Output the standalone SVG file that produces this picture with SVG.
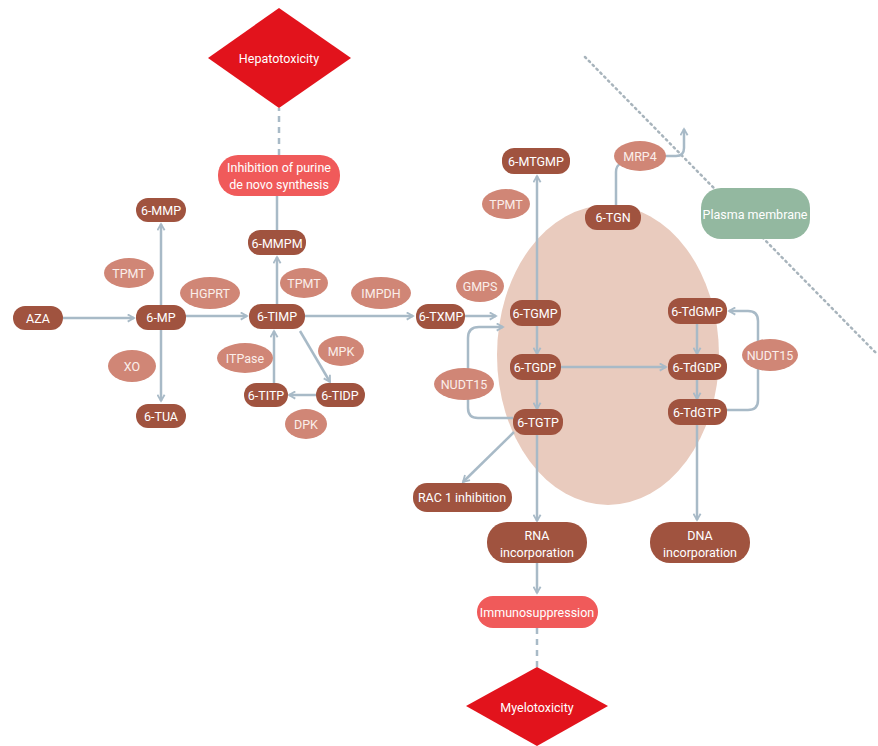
<svg xmlns="http://www.w3.org/2000/svg" width="878" height="746" viewBox="0 0 878 746">
<defs>
<marker id="ah" viewBox="0 0 10 10" refX="8" refY="5" markerWidth="9" markerHeight="9" markerUnits="userSpaceOnUse" orient="auto">
<path d="M1,1 L8,5 L1,9" fill="none" stroke="#a8bac7" stroke-width="2"/>
</marker>
<style>
.n{fill:#a0533f}
.e{fill:#d08676}
.t{fill:#ffffff;font-family:Roboto,"Liberation Sans",sans-serif;font-size:12.5px;text-anchor:middle;dominant-baseline:central}
.te{fill:#fbeeea;font-family:Roboto,"Liberation Sans",sans-serif;font-size:12.5px;text-anchor:middle;dominant-baseline:central}
.c{fill:none;stroke:#a8bac7;stroke-width:2.5}
.a{marker-end:url(#ah)}
.d{stroke-dasharray:6,5}
</style>
</defs>
<rect width="878" height="746" fill="#ffffff"/>
<ellipse cx="608" cy="355" rx="111" ry="150" fill="#e9cbbe"/>
<line x1="585" y1="57" x2="878" y2="355" stroke="#a8b4bc" stroke-width="2.5" stroke-dasharray="1.5,4" stroke-linecap="round"/>
<g id="connectors">
<line class="c a" x1="63" y1="318" x2="134" y2="318"/>
<line class="c a" x1="161" y1="305" x2="161" y2="224"/>
<line class="c a" x1="161" y1="330" x2="161" y2="401"/>
<line class="c a" x1="186" y1="316" x2="247" y2="316"/>
<line class="c a" x1="277" y1="304" x2="277" y2="257"/>
<line class="c" x1="277" y1="230" x2="277" y2="196"/>
<line class="c d" x1="279" y1="155" x2="279" y2="108"/>
<line class="c a" x1="305" y1="316" x2="413" y2="316"/>
<line class="c a" x1="300" y1="331" x2="330" y2="382"/>
<line class="c a" x1="316" y1="395" x2="289" y2="395"/>
<line class="c a" x1="274" y1="383" x2="274" y2="331"/>
<line class="c a" x1="465" y1="316" x2="496" y2="316"/>
<line class="c a" x1="537" y1="300" x2="537" y2="176"/>
<line class="c a" x1="537" y1="326" x2="537" y2="354"/>
<line class="c a" x1="537" y1="380" x2="537" y2="409"/>
<path class="c a" d="M513,418 L478,418 Q468,418 468,408 L468,338 Q468,327 479,327 L503,327"/>
<line class="c a" x1="560" y1="367" x2="666" y2="367"/>
<line class="c a" x1="697" y1="324" x2="697" y2="354"/>
<line class="c a" x1="697" y1="380" x2="697" y2="399"/>
<path class="c a" d="M727,410 L748,410 Q758,410 758,400 L758,321 Q758,311 748,311 L729,311"/>
<line class="c a" x1="697" y1="425" x2="697" y2="520"/>
<line class="c a" x1="514" y1="432" x2="463" y2="482"/>
<line class="c a" x1="537" y1="435" x2="537" y2="521"/>
<line class="c a" x1="537" y1="563" x2="537" y2="593"/>
<line class="c d" x1="537" y1="628" x2="537" y2="667"/>
<path class="c" d="M616,205 L616,172 Q616,166 620,164"/>
<path class="c a" d="M665,156 L676,156 Q684,156 684,148 L684,129"/>
</g>
<g id="hepatotoxicity"><polygon points="279,8 351,58 279,108 208,58" fill="#e2131c"/><text class="t" x="279" y="58">Hepatotoxicity</text></g>
<g id="inhibition"><rect x="218" y="155" width="122" height="41" rx="20" fill="#f05a5a"/><text class="t" x="279" y="167">Inhibition of purine</text><text class="t" x="279" y="184">de novo synthesis</text></g>
<g id="myelotoxicity"><polygon points="537,667 608,706 537,746 466,706" fill="#e2131c"/><text class="t" x="537" y="707">Myelotoxicity</text></g>
<g id="immunosuppression"><rect x="477" y="596" width="121" height="32" rx="16" fill="#f05a5a"/><text class="t" x="537" y="612">Immunosuppression</text></g>
<g id="plasma"><rect x="701" y="188" width="109" height="51" rx="20" fill="#93b8a0"/><text class="t" x="755" y="214">Plasma membrane</text></g>
<g id="aza"><rect class="n" x="13" y="306" width="50" height="24" rx="12"/><text class="t" x="38" y="318">AZA</text></g>
<g id="mp"><rect class="n" x="136" y="305" width="50" height="25" rx="12"/><text class="t" x="161" y="317">6-MP</text></g>
<g id="mmp"><rect class="n" x="136" y="198" width="50" height="24" rx="12"/><text class="t" x="161" y="210">6-MMP</text></g>
<g id="tua"><rect class="n" x="136" y="404" width="50" height="24" rx="12"/><text class="t" x="161" y="416">6-TUA</text></g>
<g id="timp"><rect class="n" x="249" y="304" width="56" height="25" rx="12"/><text class="t" x="277" y="316">6-TIMP</text></g>
<g id="mmpm"><rect class="n" x="248" y="230" width="58" height="25" rx="12"/><text class="t" x="277" y="243">6-MMPM</text></g>
<g id="titp"><rect class="n" x="244" y="383" width="44" height="24" rx="12"/><text class="t" x="266" y="395">6-TITP</text></g>
<g id="tidp"><rect class="n" x="316" y="383" width="49" height="24" rx="12"/><text class="t" x="340" y="395">6-TIDP</text></g>
<g id="txmp"><rect class="n" x="416" y="304" width="49" height="25" rx="12"/><text class="t" x="441" y="316">6-TXMP</text></g>
<g id="mtgmp"><rect class="n" x="502" y="148" width="68" height="26" rx="12"/><text class="t" x="536" y="161">6-MTGMP</text></g>
<g id="tgn"><rect class="n" x="585" y="205" width="56" height="25" rx="12"/><text class="t" x="613" y="217">6-TGN</text></g>
<g id="tgmp"><rect class="n" x="510" y="300" width="51" height="26" rx="12"/><text class="t" x="535" y="313">6-TGMP</text></g>
<g id="tgdp"><rect class="n" x="510" y="354" width="51" height="26" rx="12"/><text class="t" x="535" y="367">6-TGDP</text></g>
<g id="tgtp"><rect class="n" x="513" y="409" width="50" height="26" rx="12"/><text class="t" x="538" y="422">6-TGTP</text></g>
<g id="tdgmp"><rect class="n" x="668" y="298" width="59" height="26" rx="12"/><text class="t" x="697" y="311">6-TdGMP</text></g>
<g id="tdgdp"><rect class="n" x="668" y="354" width="59" height="26" rx="12"/><text class="t" x="697" y="367">6-TdGDP</text></g>
<g id="tdgtp"><rect class="n" x="668" y="399" width="59" height="26" rx="12"/><text class="t" x="697" y="412">6-TdGTP</text></g>
<g id="rac1"><rect class="n" x="413" y="483" width="99" height="29" rx="14"/><text class="t" x="462" y="497">RAC 1 inhibition</text></g>
<g id="rna"><rect class="n" x="487" y="522" width="100" height="41" rx="20"/><text class="t" x="537" y="535">RNA</text><text class="t" x="537" y="552">incorporation</text></g>
<g id="dna"><rect class="n" x="650" y="522" width="100" height="41" rx="20"/><text class="t" x="700" y="535">DNA</text><text class="t" x="700" y="552">incorporation</text></g>
<g id="tpmt1"><ellipse class="e" cx="129" cy="273" rx="25" ry="15"/><text class="te" x="129" y="273">TPMT</text></g>
<g id="xo"><ellipse class="e" cx="132" cy="366" rx="24" ry="16"/><text class="te" x="132" y="366">XO</text></g>
<g id="hgprt"><ellipse class="e" cx="210" cy="293" rx="30" ry="16"/><text class="te" x="210" y="293">HGPRT</text></g>
<g id="tpmt2"><ellipse class="e" cx="304" cy="283" rx="24" ry="15"/><text class="te" x="304" y="283">TPMT</text></g>
<g id="itpase"><ellipse class="e" cx="245" cy="358" rx="28" ry="15"/><text class="te" x="245" y="358">ITPase</text></g>
<g id="mpk"><ellipse class="e" cx="341" cy="351" rx="23" ry="15"/><text class="te" x="341" y="351">MPK</text></g>
<g id="dpk"><ellipse class="e" cx="306" cy="424" rx="21" ry="15"/><text class="te" x="306" y="424">DPK</text></g>
<g id="impdh"><ellipse class="e" cx="381" cy="293" rx="30" ry="16"/><text class="te" x="381" y="293">IMPDH</text></g>
<g id="gmps"><ellipse class="e" cx="480" cy="286" rx="24" ry="16"/><text class="te" x="480" y="286">GMPS</text></g>
<g id="tpmt3"><ellipse class="e" cx="506" cy="204" rx="24" ry="15"/><text class="te" x="506" y="204">TPMT</text></g>
<g id="mrp4"><ellipse class="e" cx="640" cy="156" rx="26" ry="15"/><text class="te" x="640" y="156">MRP4</text></g>
<g id="nudt15a"><ellipse class="e" cx="464" cy="384" rx="30" ry="16"/><text class="te" x="464" y="384">NUDT15</text></g>
<g id="nudt15b"><ellipse class="e" cx="770" cy="355" rx="28" ry="16"/><text class="te" x="770" y="355">NUDT15</text></g>
</svg>
